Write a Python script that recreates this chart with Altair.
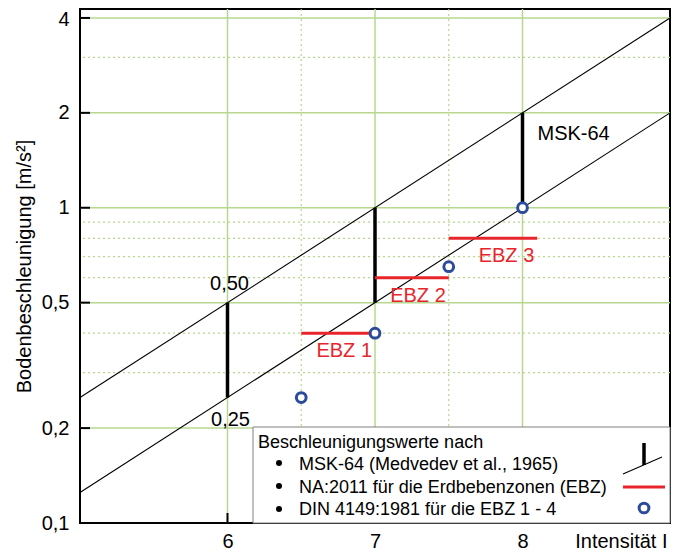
import altair as alt
import pandas as pd

# ---------------- data ----------------
intensity_ends = [5, 9]
msk_upper_ends = [0.25, 4.0]
msk_lower_ends = [0.125, 2.0]

msk_bar_x = [6, 7, 8]
msk_bar_low = [0.25, 0.5, 1.0]
msk_bar_high = [0.5, 1.0, 2.0]

ebz_names = ["EBZ 1", "EBZ 2", "EBZ 3"]
ebz_start = [6.5, 7.0, 7.5]
ebz_end = [7.0, 7.5, 8.1]
ebz_accel = [0.4, 0.6, 0.8]

din_intensity = [6.5, 7.0, 7.5, 8.0]
din_accel = [0.25, 0.4, 0.65, 1.0]

x_ticks = [6, 7, 8]
x_minor = [6.5, 7.5]
y_ticks = [0.1, 0.2, 0.5, 1, 2, 4]
y_major_grid = [0.2, 0.5, 1, 2, 4]
y_minor_grid = [0.3, 0.4, 0.6, 0.7, 0.8, 0.9, 3]

msk_value_labels = ["0,50", "0,25"]
msk_label = "MSK-64"
legend_title = "Beschleunigungswerte nach"
legend_items = [
    "MSK-64 (Medvedev et al., 1965)",
    "NA:2011 für die Erdbebenzonen (EBZ)",
    "DIN 4149:1981 für die EBZ 1 - 4",
]

# ---------------- style ----------------
FONT = "Liberation Sans"
GREEN = "#b7d78e"
RED = "#e8252b"
BLUE = "#2b4b9b"
W, H = 590, 514

xscale = alt.Scale(domain=[5, 9], nice=False, zero=False)
yscale = alt.Scale(type="log", domain=[0.1, 4.27], nice=False)

xaxis = alt.Axis(values=x_ticks, format="d", ticks=False, tickSize=0, domain=False, grid=False,
                 labelFont=FONT, labelFontSize=20, labelColor="black", labelPadding=8,
                 labelFlush=False,
                 title="Intensität I", titleFont=FONT, titleFontSize=20, titleFontWeight="normal",
                 titleColor="black", titleX=587, titleY=24, titleAlign="right",
                 titleBaseline="alphabetic")
yaxis = alt.Axis(values=y_ticks, labelExpr="replace(toString(datum.value), '.', ',')",
                 ticks=False, tickSize=0, domain=False, grid=False,
                 labelFont=FONT, labelFontSize=20, labelColor="black", labelPadding=11,
                 labelFlush=False,
                 labelOffset={"condition": {"test": "datum.value >= 4", "value": 2}, "value": 0},
                 title="Bodenbeschleunigung [m/s²]", titleFont=FONT, titleFontSize=20,
                 titleFontWeight="normal", titleColor="black", titleX=-50, titleY=257,
                 titleAngle=270, titleAlign="center", titleBaseline="alphabetic")


def X(f):
    return alt.X(f, type="quantitative", scale=xscale, axis=xaxis)


def Y(f):
    return alt.Y(f, type="quantitative", scale=yscale, axis=yaxis)


layers = []

# grid
layers.append(alt.Chart(pd.DataFrame({"v": y_major_grid})).mark_rule(color=GREEN, strokeWidth=1.5)
              .encode(y=Y("v")))
layers.append(alt.Chart(pd.DataFrame({"v": y_minor_grid})).mark_rule(color=GREEN, strokeWidth=1.2,
                                                                      strokeDash=[2, 3])
              .encode(y=Y("v")))
layers.append(alt.Chart(pd.DataFrame({"v": x_ticks})).mark_rule(color=GREEN, strokeWidth=1.5)
              .encode(x=X("v")))
layers.append(alt.Chart(pd.DataFrame({"v": x_minor})).mark_rule(color=GREEN, strokeWidth=1.2,
                                                                 strokeDash=[2, 3])
              .encode(x=X("v")))

# inward ticks
layers.append(alt.Chart(pd.DataFrame({"v": y_ticks})).mark_rule(color="black", strokeWidth=2)
              .encode(y=Y("v"), x=alt.value(0), x2=alt.value(10)))
layers.append(alt.Chart(pd.DataFrame({"v": x_ticks})).mark_rule(color="black", strokeWidth=2)
              .encode(x=X("v"), y=alt.value(H), y2=alt.value(H - 10)))

# legend box
layers.append(alt.Chart(pd.DataFrame({"a": [0]})).mark_rect(fill="white", stroke="#808080",
                                                             strokeWidth=1)
              .encode(x=alt.value(173), x2=alt.value(W), y=alt.value(418), y2=alt.value(H)))

# MSK lines
lines_df = pd.DataFrame({
    "x": intensity_ends + intensity_ends,
    "y": msk_upper_ends + msk_lower_ends,
    "s": ["upper"] * 2 + ["lower"] * 2,
})
layers.append(alt.Chart(lines_df).mark_line(color="black", strokeWidth=1.1)
              .encode(x=X("x"), y=Y("y"), detail="s:N"))

# MSK bars
bars_df = pd.DataFrame({"x": msk_bar_x, "lo": msk_bar_low, "hi": msk_bar_high})
layers.append(alt.Chart(bars_df).mark_rule(color="black", strokeWidth=3.5)
              .encode(x=X("x"), y=Y("lo"), y2="hi"))

# EBZ lines
ebz_df = pd.DataFrame({"name": ebz_names, "x0": ebz_start, "x1": ebz_end, "y": ebz_accel})
layers.append(alt.Chart(ebz_df).mark_rule(color=RED, strokeWidth=3)
              .encode(x=X("x0"), x2="x1", y=Y("y")))
layers.append(alt.Chart(ebz_df).mark_text(color=RED, font=FONT, fontSize=20, align="right",
                                          baseline="alphabetic", dx=-3, dy=24)
              .encode(x=X("x1"), y=Y("y"), text="name:N"))

# DIN points
din_df = pd.DataFrame({"x": din_intensity, "y": din_accel})
layers.append(alt.Chart(din_df).mark_point(shape="circle", filled=False, fill="white", fillOpacity=1,
                                           stroke=BLUE, strokeWidth=3, size=95, opacity=1)
              .encode(x=X("x"), y=Y("y")))

# annotations
ann_df = pd.DataFrame({"x": [msk_bar_x[0]], "y": [msk_bar_high[0]], "t": [msk_value_labels[0]]})
layers.append(alt.Chart(ann_df).mark_text(font=FONT, fontSize=20, color="black", align="center",
                                          baseline="alphabetic", dx=2, dy=-13)
              .encode(x=X("x"), y=Y("y"), text="t:N"))
ann_df2 = pd.DataFrame({"x": [msk_bar_x[0]], "y": [msk_bar_low[0]], "t": [msk_value_labels[1]]})
layers.append(alt.Chart(ann_df2).mark_text(font=FONT, fontSize=20, color="black", align="center",
                                           baseline="alphabetic", dx=3, dy=28)
              .encode(x=X("x"), y=Y("y"), text="t:N"))
ann_df3 = pd.DataFrame({"x": [msk_bar_x[-1]], "y": [msk_bar_high[-1]], "t": [msk_label]})
layers.append(alt.Chart(ann_df3).mark_text(font=FONT, fontSize=20, color="black", align="left",
                                           baseline="alphabetic", dx=15, dy=27)
              .encode(x=X("x"), y=Y("y"), text="t:N"))

# legend contents
one = pd.DataFrame({"a": [0]})
layers.append(alt.Chart(one).mark_text(font=FONT, fontSize=18, color="black", align="left",
                                       baseline="alphabetic")
              .encode(x=alt.value(178), y=alt.value(439), text=alt.value(legend_title)))
for i, item in enumerate(legend_items):
    layers.append(alt.Chart(one).mark_text(font=FONT, fontSize=18, color="black", align="left",
                                           baseline="alphabetic")
                  .encode(x=alt.value(219), y=alt.value(461 + 22.5 * i), text=alt.value(item)))
    layers.append(alt.Chart(one).mark_point(shape="circle", filled=True, color="black", size=36,
                                            opacity=1)
                  .encode(x=alt.value(199), y=alt.value(454 + 23 * i)))

# legend symbols
layers.append(alt.Chart(one).mark_rule(color="black", strokeWidth=1.1)
              .encode(x=alt.value(543), y=alt.value(465), x2=alt.value(582), y2=alt.value(448)))
layers.append(alt.Chart(one).mark_rule(color="black", strokeWidth=3.5)
              .encode(x=alt.value(564), y=alt.value(434), y2=alt.value(456)))
layers.append(alt.Chart(one).mark_rule(color=RED, strokeWidth=3)
              .encode(x=alt.value(543), x2=alt.value(585), y=alt.value(478)))
layers.append(alt.Chart(one).mark_point(shape="circle", filled=False, fill="white", fillOpacity=1,
                                        stroke=BLUE, strokeWidth=3, size=95, opacity=1)
              .encode(x=alt.value(564), y=alt.value(499)))

chart = alt.layer(*layers).properties(
    width=W, height=H,
    autosize=alt.AutoSizeParams(type="none"),
    padding={"left": 72, "top": 1, "right": 3, "bottom": 29},
    background="white",
).configure_view(stroke="black", strokeWidth=2)

chart.save("out.html", embed_options={"renderer": "svg", "actions": False})
